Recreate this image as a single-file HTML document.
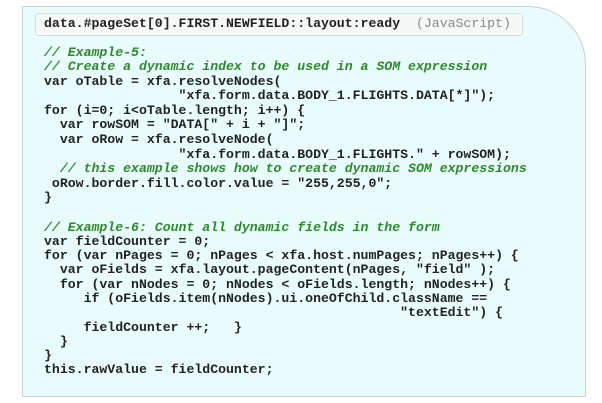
<!DOCTYPE html>
<html><head><style>
html,body{margin:0;padding:0;background:#fff;width:602px;height:403px;overflow:hidden}
.box{position:absolute;left:22px;top:6px;width:562px;height:389px;background:#e9fcfc;border:1px solid #c8d0d0;border-top-right-radius:58px}
.hdr{position:absolute;left:35px;top:13px;width:486px;height:21px;background:#f6f7f7;border:1px solid #d8dcdc;border-radius:3px}
pre{margin:0;font-family:"Liberation Mono",monospace;font-weight:bold;color:#222;position:absolute;font-size:13.2px}
.h{left:44px;top:16px;line-height:16px}
.h span{color:#888;font-weight:normal}
.c{left:44px}
.c1{top:45.5px;line-height:14.6px}
.c2{top:220.5px;line-height:14.3px}
.g{color:#2b8a2b;font-style:italic}
</style></head><body>
<div class="box"></div>
<div class="hdr"></div>
<pre class="h">data.#pageSet[0].FIRST.NEWFIELD::layout:ready  <span>(JavaScript)</span></pre>
<pre class="c c1"><span class="g">// Example-5:
// Create a dynamic index to be used in a SOM expression</span>
var oTable = xfa.resolveNodes(
                 "xfa.form.data.BODY_1.FLIGHTS.DATA[*]");
for (i=0; i&lt;oTable.length; i++) {
  var rowSOM = "DATA[" + i + "]";
  var oRow = xfa.resolveNode(
                 "xfa.form.data.BODY_1.FLIGHTS." + rowSOM);
  <span class="g">// this example shows how to create dynamic SOM expressions</span>
 oRow.border.fill.color.value = "255,255,0";
}</pre>
<pre class="c c2"><span class="g">// Example-6: Count all dynamic fields in the form</span>
var fieldCounter = 0;
for (var nPages = 0; nPages &lt; xfa.host.numPages; nPages++) {
  var oFields = xfa.layout.pageContent(nPages, "field" );
  for (var nNodes = 0; nNodes &lt; oFields.length; nNodes++) {
     if (oFields.item(nNodes).ui.oneOfChild.className ==
                                             "textEdit") {
     fieldCounter ++;   }
  }
}
this.rawValue = fieldCounter;</pre>
</body></html>
